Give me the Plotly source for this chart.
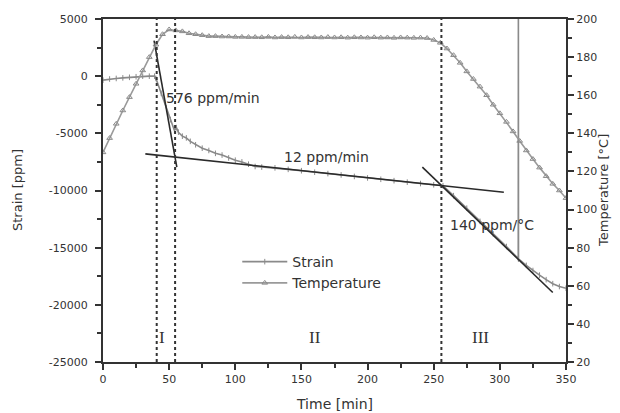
import plotly.graph_objects as go

# ---- data ----
strain_t = [0, 5, 10, 15, 20, 25, 30, 35, 39, 40, 44, 48, 51, 54, 55.5, 57, 60, 63, 66, 70,
            75, 80, 85, 90, 95, 100, 105, 110, 115, 120, 130, 140, 150, 160, 170, 180, 190,
            200, 210, 220, 230, 240, 250, 257, 265, 275, 285, 295, 305, 313.9, 314, 314.1,
            320, 325, 330, 335, 340, 345, 350]
strain_v = [-350, -250, -200, -150, -100, -50, 0, 0, 0, -200, -1500, -2800, -3800, -4750,
            -4500, -4900, -5250, -5400, -5700, -6000, -6300, -6500, -6750, -6900, -7150,
            -7350, -7500, -7700, -7900, -7950, -8020, -8150, -8270, -8400, -8520, -8640,
            -8770, -8900, -9020, -9140, -9270, -9390, -9500, -9580, -10450, -11550, -12700,
            -13800, -14900, -15950, 6000, -15990, -16550, -17000, -17400, -17800, -18150,
            -18400, -18550]

temp_t = list(range(0, 351, 5))
temp_v = [130, 137.5, 145, 152, 159, 166, 173, 180, 186.5, 192,          # 0-45
          194.5, 194, 193.5, 192.5, 192, 191.5, 191, 191, 190.8, 190.8,  # 50-95
          190.6, 190.6, 190.5, 190.5, 190.4, 190.6, 190.3, 190.5, 190.4, 190.6,  # 100-145
          190.3, 190.5, 190.4, 190.3, 190.5, 190.3, 190.4, 190.2, 190.4, 190.3,  # 150-195
          190.2, 190.4, 190.2, 190.3, 190.1, 190.3, 190.2, 190.1, 190.2, 190,    # 200-245
          189, 187.5, 184.5, 181, 177, 172.5, 168.5, 164.5, 160, 155,            # 250-295
          150.5, 146, 141, 136, 131, 126.5, 122, 117.5, 113.5, 110,              # 300-345
          106]                                                                   # 350

fit1_t = [38.6, 55.8]
fit1_v = [3100, -7950]
fit2_t = [32, 303]
fit2_v = [-6800, -10150]
fit3_t = [241.4, 340]
fit3_v = [-7950, -18920]

stage_t = [40.6, 54.5, 255.8]

x_ticks = [0, 50, 100, 150, 200, 250, 300, 350]
y_ticks = [-25000, -20000, -15000, -10000, -5000, 0, 5000]
y_text = ["-25000", "-20000", "-15000", "-10000", "-5000", "0", "5000"]
y2_ticks = [20, 40, 60, 80, 100, 120, 140, 160, 180, 200]

roman = ["I", "II", "III"]
roman_t = [44.7, 160.6, 285.6]

slope_labels = ["576 ppm/min", "12 ppm/min", "140 ppm/°C"]
slope_t = [83, 168.6, 294]
slope_v = [-1930, -7105, -12980]

FONT = "DejaVu Sans"
AX = "#333333"

fig = go.Figure()

fig.add_trace(go.Scatter(x=strain_t, y=strain_v, name="Strain", mode="lines+markers",
                         line=dict(color="#8a8a8a", width=1.6),
                         marker=dict(symbol="line-ns-open", size=4, color="#8a8a8a",
                                     line=dict(width=1, color="#8a8a8a"))))
fig.add_trace(go.Scatter(x=temp_t, y=temp_v, name="Temperature", yaxis="y2",
                         mode="lines+markers",
                         line=dict(color="#9a9a9a", width=1.6),
                         marker=dict(symbol="triangle-up-open", size=5, color="#8a8a8a",
                                     line=dict(width=1, color="#8a8a8a"))))

for ft, fv in [(fit1_t, fit1_v), (fit2_t, fit2_v), (fit3_t, fit3_v)]:
    fig.add_trace(go.Scatter(x=ft, y=fv, mode="lines", showlegend=False,
                             line=dict(color="#2a2a2a", width=1.6), hoverinfo="skip"))

for st in stage_t:
    fig.add_shape(type="line", x0=st, x1=st, y0=0, y1=1, xref="x", yref="paper",
                  line=dict(color="#333333", width=2, dash="dot"))

for r, rt in zip(roman, roman_t):
    fig.add_annotation(x=rt, y=-22900, text=r, showarrow=False,
                       font=dict(family="Liberation Serif", size=17, color="#333333"))

for s, st_, sv in zip(slope_labels, slope_t, slope_v):
    fig.add_annotation(x=st_, y=sv, text=s, showarrow=False,
                       font=dict(family=FONT, size=14, color="#333333"))

fig.add_annotation(x=0.5, y=0, xref="paper", yref="paper", yshift=-52, text="Time [min]",
                   showarrow=False, font=dict(family=FONT, size=14, color="#333333"))
fig.add_annotation(x=0, y=0.5, xref="paper", yref="paper", xshift=-95, text="Strain [ppm]",
                   textangle=-90, showarrow=False,
                   font=dict(family=FONT, size=13, color="#333333"))
fig.add_annotation(x=1, y=0.5, xref="paper", yref="paper", xshift=47,
                   text="Temperature [°C]", textangle=-90, showarrow=False,
                   font=dict(family=FONT, size=13, color="#333333"))

tickfont = dict(family=FONT, size=11, color="#333333")
fig.update_layout(
    width=620, height=413,
    margin=dict(l=103, r=54, t=19, b=51),
    paper_bgcolor="white", plot_bgcolor="white",
    showlegend=True,
    legend=dict(x=0.29, y=0.338, xanchor="left", yanchor="top",
                bgcolor="rgba(0,0,0,0)", font=dict(family=FONT, size=14, color="#333333"),
                tracegroupgap=0, itemwidth=45),
    xaxis=dict(range=[0, 350], tickvals=x_ticks, ticks="outside", ticklen=6, tickwidth=1.5,
               tickcolor=AX, showline=True, linecolor=AX, linewidth=2, mirror=True,
               showgrid=False, zeroline=False, tickfont=tickfont,
               minor=dict(dtick=25, ticks="outside", ticklen=4, tickcolor=AX, showgrid=False)),
    yaxis=dict(range=[-25000, 5000], tickvals=y_ticks, ticktext=y_text, ticks="outside",
               ticklen=6, tickwidth=1.5, tickcolor=AX, showline=True, linecolor=AX,
               linewidth=2, showgrid=False, zeroline=False, tickfont=tickfont,
               ticklabelstandoff=5,
               minor=dict(dtick=2500, ticks="outside", ticklen=4, tickcolor=AX,
                          showgrid=False)),
    yaxis2=dict(range=[20, 200], tickvals=y2_ticks, overlaying="y", side="right",
                ticks="outside", ticklen=6, tickwidth=1.5, tickcolor=AX, showline=True,
                linecolor=AX, linewidth=2, showgrid=False, zeroline=False, tickfont=tickfont,
                minor=dict(dtick=10, ticks="outside", ticklen=4, tickcolor=AX,
                           showgrid=False)),
)

fig.write_html("out.html")
